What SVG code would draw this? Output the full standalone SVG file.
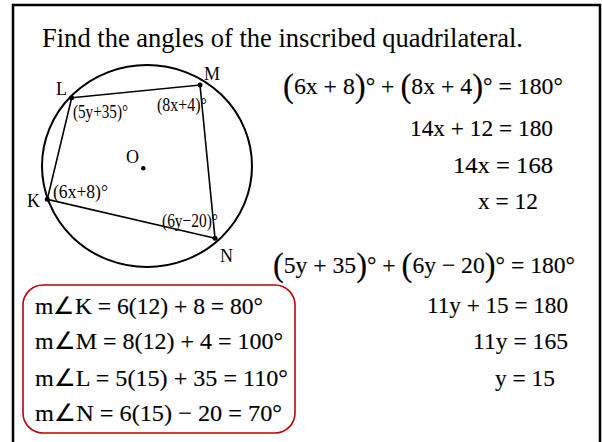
<svg xmlns="http://www.w3.org/2000/svg" width="602" height="442" viewBox="0 0 602 442">
<style>
text{font-family:"Liberation Serif",serif;fill:#000}
.t{font-size:26.5px}
.eq{font-size:24px;stroke:#000;stroke-width:0.15}
.p{font-size:33px}
.lab{font-size:18px}
.ang{font-size:19px}
.ln{stroke:#000;fill:none}
</style>
<rect width="602" height="442" fill="#fff"/>
<path d="M13 442V5H600V442" fill="none" stroke="#000" stroke-width="2.5"/>
<text class="t" x="42" y="47" textLength="481" lengthAdjust="spacingAndGlyphs">Find the angles of the inscribed quadrilateral.</text>
<g id="figure">
<ellipse cx="147" cy="166" rx="105" ry="101" class="ln" stroke-width="2"/>
<g id="connectors">
<polygon points="71.7,97.7 200,85 215,238.3 47.3,199.3" class="ln" stroke-width="1.6"/>
</g>
<g id="L"><circle cx="71.7" cy="97.7" r="2.5"/><text class="lab" x="56" y="95">L</text><text class="ang" x="73" y="118" textLength="55" lengthAdjust="spacingAndGlyphs">(5y+35)°</text></g>
<g id="M"><circle cx="200" cy="85" r="2.5"/><text class="lab" x="204" y="80">M</text><text class="ang" x="157" y="111" textLength="50" lengthAdjust="spacingAndGlyphs">(8x+4)°</text></g>
<g id="K"><circle cx="47.3" cy="199.3" r="2.5"/><text class="lab" x="27" y="207">K</text><text class="ang" x="53" y="198" textLength="55" lengthAdjust="spacingAndGlyphs">(6x+8)°</text></g>
<g id="N"><circle cx="215" cy="238.3" r="2.5"/><text class="lab" x="220" y="262">N</text><text class="ang" x="162" y="227" textLength="56" lengthAdjust="spacingAndGlyphs">(6y−20)°</text></g>
<g id="O"><circle cx="143.3" cy="168.3" r="2.2"/><text class="lab" x="126" y="163">O</text></g>
</g>
<g id="eqx">
<text class="eq" x="283" y="94" textLength="280" lengthAdjust="spacingAndGlyphs"><tspan class="p" dy="3">(</tspan><tspan dy="-3">6x + 8</tspan><tspan class="p" dy="3">)</tspan><tspan dy="-3">° + </tspan><tspan class="p" dy="3">(</tspan><tspan dy="-3">8x + 4</tspan><tspan class="p" dy="3">)</tspan><tspan dy="-3">° = 180°</tspan></text>
<text class="eq" x="410" y="136" textLength="143" lengthAdjust="spacingAndGlyphs">14x + 12 = 180</text>
<text class="eq" x="453" y="173" textLength="100" lengthAdjust="spacingAndGlyphs">14x = 168</text>
<text class="eq" x="478" y="209" textLength="60" lengthAdjust="spacingAndGlyphs">x = 12</text>
</g>
<g id="eqy">
<text class="eq" x="273" y="273" textLength="302" lengthAdjust="spacingAndGlyphs"><tspan class="p" dy="3">(</tspan><tspan dy="-3">5y + 35</tspan><tspan class="p" dy="3">)</tspan><tspan dy="-3">° + </tspan><tspan class="p" dy="3">(</tspan><tspan dy="-3">6y − 20</tspan><tspan class="p" dy="3">)</tspan><tspan dy="-3">° = 180°</tspan></text>
<text class="eq" x="427" y="313" textLength="141" lengthAdjust="spacingAndGlyphs">11y + 15 = 180</text>
<text class="eq" x="473" y="349" textLength="95" lengthAdjust="spacingAndGlyphs">11y = 165</text>
<text class="eq" x="495" y="386" textLength="60" lengthAdjust="spacingAndGlyphs">y = 15</text>
</g>
<g id="answers">
<rect x="23" y="285" width="272" height="148" rx="20" fill="none" stroke="#c00000" stroke-width="1.6"/>
<text class="eq" x="35" y="314" textLength="228" lengthAdjust="spacingAndGlyphs">m∠K = 6(12) + 8 = 80°</text>
<text class="eq" x="35" y="349" textLength="248" lengthAdjust="spacingAndGlyphs">m∠M = 8(12) + 4 = 100°</text>
<text class="eq" x="35" y="386" textLength="253" lengthAdjust="spacingAndGlyphs">m∠L = 5(15) + 35 = 110°</text>
<text class="eq" x="35" y="421" textLength="247" lengthAdjust="spacingAndGlyphs">m∠N = 6(15) − 20 = 70°</text>
</g>
</svg>
